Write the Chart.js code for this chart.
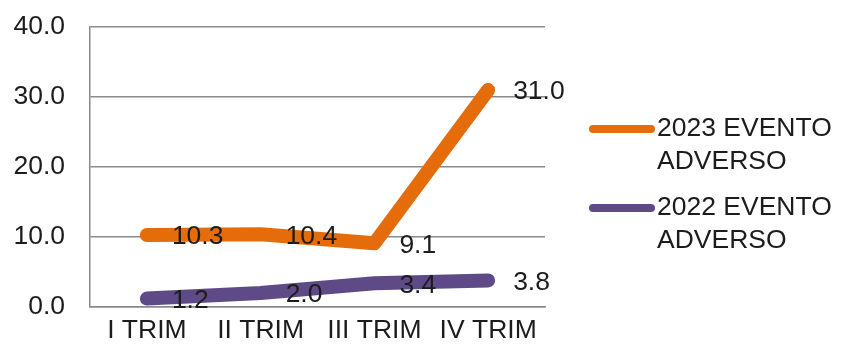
<!DOCTYPE html>
<html lang="es">
<head>
    <meta charset="UTF-8">
    <title>Eventos adversos por trimestre</title>
    <script src="https://cdn.jsdelivr.net/npm/chart.js"></script>
    <style>
        body { margin: 0; background: #fff; }
        canvas { display: block; }
    </style>
</head>
<body>
    <canvas id="eventosChart" width="841" height="351"></canvas>

    <script>
        // Datos
        const trimestres = ['I TRIM', 'II TRIM', 'III TRIM', 'IV TRIM'];
        const eventos2023 = [10.3, 10.4, 9.1, 31.0];
        const eventos2022 = [1.2, 2.0, 3.4, 3.8];
        const etiqueta2023 = ['2023 EVENTO', 'ADVERSO'];
        const etiqueta2022 = ['2022 EVENTO', 'ADVERSO'];
        const ejeY = [0, 10, 20, 30, 40];

        const FUENTE = '26.5px "Liberation Sans", Arial, sans-serif';
        const TEXTO = '#1c1c1c';
        const GRIS = '#8a8a8a';

        // Valores junto a cada punto
        const etiquetasValor = {
            id: 'etiquetasValor',
            afterDatasetsDraw(chart) {
                const ctx = chart.ctx;
                ctx.save();
                ctx.font = FUENTE;
                ctx.fillStyle = TEXTO;
                ctx.textAlign = 'left';
                ctx.textBaseline = 'middle';
                chart.data.datasets.forEach((ds, i) => {
                    chart.getDatasetMeta(i).data.forEach((pt, j) => {
                        ctx.fillText(ds.data[j].toFixed(1), pt.x + 25, pt.y + 2);
                    });
                });
                ctx.restore();
            }
        };

        // Leyenda a la derecha con texto en dos líneas
        const leyenda = {
            id: 'leyenda',
            afterDraw(chart) {
                const ctx = chart.ctx;
                const x0 = chart.chartArea.right + 44;
                const tops = [129, 208];
                ctx.save();
                chart.data.datasets.forEach((ds, i) => {
                    const y = tops[i];
                    ctx.strokeStyle = ds.borderColor;
                    ctx.lineWidth = 8;
                    ctx.lineCap = 'round';
                    ctx.beginPath();
                    ctx.moveTo(x0 + 4, y);
                    ctx.lineTo(x0 + 62, y);
                    ctx.stroke();
                    ctx.font = FUENTE;
                    ctx.fillStyle = TEXTO;
                    ctx.textAlign = 'left';
                    ctx.textBaseline = 'middle';
                    ds.lineas.forEach((t, k) => ctx.fillText(t, x0 + 68, y + k * 33));
                });
                ctx.restore();
            }
        };

        const ctx = document.getElementById('eventosChart').getContext('2d');
        new Chart(ctx, {
            type: 'line',
            data: {
                labels: trimestres,
                datasets: [
                    {
                        label: etiqueta2023.join(' '),
                        lineas: etiqueta2023,
                        data: eventos2023,
                        borderColor: '#e46c0a',
                        borderWidth: 14,
                        borderCapStyle: 'round',
                        borderJoinStyle: 'round',
                        pointRadius: 0,
                        tension: 0
                    },
                    {
                        label: etiqueta2022.join(' '),
                        lineas: etiqueta2022,
                        data: eventos2022,
                        borderColor: '#5f4a88',
                        borderWidth: 14,
                        borderCapStyle: 'round',
                        borderJoinStyle: 'round',
                        pointRadius: 0,
                        tension: 0
                    }
                ]
            },
            options: {
                responsive: false,
                animation: false,
                layout: { padding: { left: 0, right: 296, top: 27, bottom: 0 } },
                plugins: {
                    legend: { display: false },
                    tooltip: { enabled: false }
                },
                scales: {
                    x: {
                        offset: true,
                        grid: { display: false, drawTicks: false },
                        border: { display: true, color: GRIS, width: 1.5 },
                        ticks: { font: { family: '"Liberation Sans", Arial, sans-serif', size: 26.5 }, color: TEXTO, padding: 8, maxRotation: 0 },
                        afterFit(scale) { scale.height = 44; }
                    },
                    y: {
                        min: ejeY[0],
                        max: ejeY[ejeY.length - 1],
                        afterBuildTicks(scale) { scale.ticks = ejeY.map(v => ({ value: v })); },
                        grid: { color: GRIS, lineWidth: 1.5, drawTicks: false },
                        border: { display: true, color: GRIS, width: 1.5 },
                        ticks: {
                            font: { family: '"Liberation Sans", Arial, sans-serif', size: 26.5 },
                            color: TEXTO,
                            padding: 25,
                            callback: v => v.toFixed(1)
                        },
                        afterFit(scale) {
                            scale.width = 90;
                            scale.paddingTop = 0;
                            scale.paddingBottom = 0;
                        }
                    }
                }
            },
            plugins: [etiquetasValor, leyenda]
        });
    </script>
</body>
</html>
